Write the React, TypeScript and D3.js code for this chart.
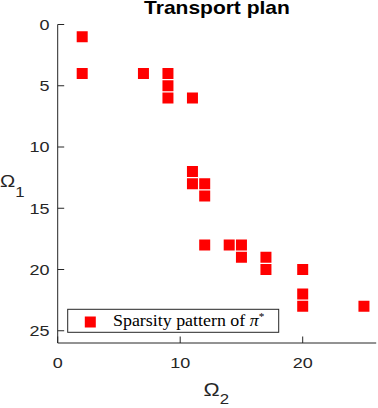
import React from 'react';
import * as d3 from 'd3';

// sparsity pattern: column index (Omega_2) and row index (Omega_1)
const omega2Idx = [2, 2, 7, 9, 9, 9, 11, 11, 11, 12, 12, 12, 14, 15, 15, 17, 17, 20, 20, 20, 25];
const omega1Idx = [1, 4, 4, 4, 5, 6, 6, 12, 13, 13, 14, 18, 18, 18, 19, 19, 20, 20, 22, 23, 23];
const xTicks = [0, 10, 20];
const yTicks = [0, 5, 10, 15, 20, 25];
const titleText = 'Transport plan';
const legendText = 'Sparsity pattern of ';

const W = 378, H = 408;
const axisColor = '#262626';
const sansFont = '"Liberation Sans", Arial, Helvetica, sans-serif';
const serifFont = '"Liberation Serif", "Times New Roman", serif';
const stretch = 1.2; // glyphs in the reference are a bit wide

const x = d3.scaleLinear().domain([0, 26]).range([57.7, 376.2]);
const y = d3.scaleLinear().domain([0, 26]).range([24.5, 343]);

const Wide = ({ tx, ty, children }: { tx: number; ty: number; children: React.ReactNode }) => (
  <g transform={`translate(${tx},${ty}) scale(${stretch},1)`}>{children}</g>
);

export default function App() {
  const mk = 11;
  const tickLen = 6.5;
  const [x0, x1] = x.range();
  const [y0, y1] = y.range();
  const pts = omega2Idx.map((c, i) => ({ c, r: omega1Idx[i] }));

  return (
    <svg width={W} height={H} style={{ position: 'absolute', left: 0, top: 0, background: '#fff' }}>
      {/* title */}
      <Wide tx={(x0 + x1) / 2} ty={14}>
        <text textAnchor="middle" fontFamily={sansFont} fontWeight="bold" fontSize={17.5} fill="#000">
          {titleText}
        </text>
      </Wide>

      {/* markers */}
      {pts.map((p, i) => (
        <rect key={i} x={x(p.c) - mk / 2} y={y(p.r) - mk / 2} width={mk} height={mk} fill="#ff0000" />
      ))}

      {/* axes */}
      <line x1={x0} x2={x0} y1={y0} y2={y1} stroke={axisColor} strokeWidth={1} />
      <line x1={x0} x2={x1} y1={y1} y2={y1} stroke={axisColor} strokeWidth={1} />
      {yTicks.map(t => (
        <g key={'y' + t}>
          <line x1={x0} x2={x0 + tickLen} y1={y(t)} y2={y(t)} stroke={axisColor} />
          <Wide tx={49.5} ty={y(t) + 5.3}>
            <text textAnchor="end" fontFamily={sansFont} fontSize={15} fill={axisColor}>{t}</text>
          </Wide>
        </g>
      ))}
      {xTicks.map(t => (
        <g key={'x' + t}>
          <line x1={x(t)} x2={x(t)} y1={y1} y2={y1 - tickLen} stroke={axisColor} />
          <Wide tx={x(t)} ty={368.3}>
            <text textAnchor="middle" fontFamily={sansFont} fontSize={15} fill={axisColor}>{t}</text>
          </Wide>
        </g>
      ))}

      {/* axis labels */}
      <Wide tx={0} ty={186.7}>
        <text fontFamily={sansFont} fontSize={17} fill={axisColor}>
          Ω<tspan fontSize={14} dy={10.4}>1</tspan>
        </text>
      </Wide>
      <Wide tx={203.5} ty={395.5}>
        <text fontFamily={sansFont} fontSize={18} fill={axisColor}>
          Ω<tspan fontSize={14} dy={8.5}>2</tspan>
        </text>
      </Wide>

      {/* legend */}
      <rect x={67.7} y={309.3} width={211} height={23} fill="#fff" stroke={axisColor} strokeWidth={1} />
      <rect x={90.3 - mk / 2} y={322 - mk / 2} width={mk} height={mk} fill="#ff0000" />
      <g transform={`translate(113,326) scale(1.12,1)`}>
        <text fontFamily={serifFont} fontSize={16} fill="#000">
          {legendText}
          <tspan fontStyle="italic">π</tspan>
          <tspan fontSize={10} dy={-6}>*</tspan>
        </text>
      </g>
    </svg>
  );
}
